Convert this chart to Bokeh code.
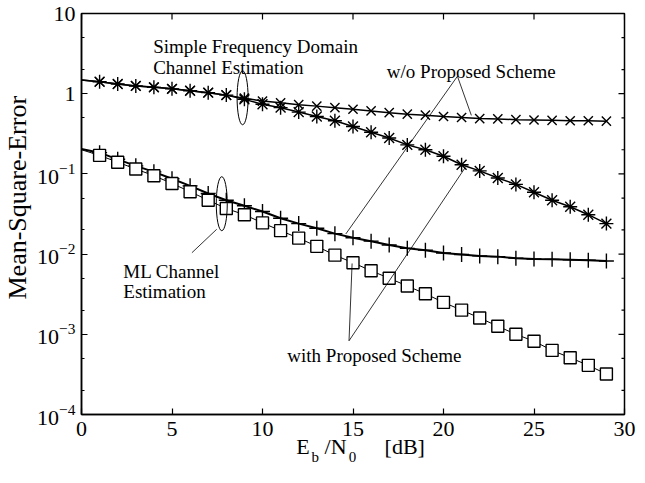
import math
from bokeh.plotting import figure
from bokeh.models import FixedTicker, Label, Range1d, LinearAxis
from bokeh.embed import file_html
from bokeh.resources import INLINE

# ---------------- data ----------------
ebn0 = list(range(0, 30))
mse_simple_wo = [1.48, 1.41, 1.32, 1.25, 1.21, 1.15, 1.09, 1.03, 0.96, 0.88,
                 0.81, 0.77, 0.73, 0.70, 0.67, 0.64, 0.61, 0.58, 0.555, 0.54,
                 0.52, 0.505, 0.49, 0.485, 0.475, 0.47, 0.465, 0.46, 0.46, 0.455]
mse_simple_with = [1.48, 1.41, 1.32, 1.25, 1.20, 1.15, 1.09, 1.03, 0.96, 0.85,
                   0.74, 0.67, 0.59, 0.52, 0.46, 0.39, 0.33, 0.28, 0.23, 0.20,
                   0.166, 0.13, 0.109, 0.089, 0.074, 0.059, 0.047, 0.039, 0.031, 0.024]
mse_ml_wo = [0.205, 0.184, 0.152, 0.126, 0.106, 0.087, 0.071, 0.057, 0.047, 0.040,
             0.034, 0.028, 0.024, 0.021, 0.018, 0.016, 0.0145, 0.013, 0.0118, 0.0112,
             0.0103, 0.0099, 0.0095, 0.0093, 0.0089, 0.0087, 0.0086, 0.0085, 0.0084, 0.0082]
mse_ml_with = [0.20, 0.17, 0.14, 0.115, 0.095, 0.076, 0.060, 0.047, 0.037, 0.031,
               0.0245, 0.0196, 0.0158, 0.0125, 0.0097, 0.0078, 0.0062, 0.0050, 0.0040, 0.0032,
               0.0025, 0.0020, 0.0016, 0.00126, 0.0010, 0.00082, 0.00063, 0.00051, 0.00041, 0.00032]

x_ticks = [0, 5, 10, 15, 20, 25, 30]
y_ticks = [1e-4, 1e-3, 1e-2, 1e-1, 1, 10]
y_minor = [2e-4, 5e-4, 2e-3, 5e-3, 2e-2, 5e-2, 0.2, 0.5, 2, 5]
y_label_overrides = {1: "1", 10: "10"}

# x-axis title pieces ("E_b /N_0  [dB]"): main parts and subscripts, centred at these x positions
xlabel_main_pos = [12.23, 14.04, 17.86]
xlabel_main_txt = ["E", "/N", "[dB]"]
xlabel_sub_pos = [12.91, 14.97]
xlabel_sub_txt = ["b", "0"]

FONT = "Liberation Serif"
X_MIN, X_MAX = 0, 30
Y_MIN, Y_MAX = 1e-4, 10

p = figure(width=636, height=467, x_range=Range1d(X_MIN, X_MAX), y_range=Range1d(Y_MIN, Y_MAX),
           y_axis_type="log", output_backend="svg", toolbar_location=None,
           min_border_left=78, min_border_right=12, min_border_top=13, min_border_bottom=0)
p.xgrid.visible = False
p.ygrid.visible = False
p.outline_line_color = "black"
p.outline_line_width = 1.5
p.background_fill_color = "white"
p.border_fill_color = "white"


def style(ax):
    ax.axis_line_width = 1.5
    ax.axis_line_color = "black"
    ax.major_tick_in = 6
    ax.major_tick_out = 0
    ax.minor_tick_in = 3
    ax.minor_tick_out = 0
    ax.major_tick_line_width = 1.2
    ax.minor_tick_line_width = 1.2
    ax.major_tick_line_color = "black"
    ax.minor_tick_line_color = "black"
    ax.major_label_text_font = FONT
    ax.major_label_text_color = "black"
    ax.major_label_text_font_size = "22px"
    ax.major_label_standoff = 6


def text_axis(positions, texts, size, standoff):
    # an extra axis below the main one that only carries text labels
    ax = LinearAxis(ticker=FixedTicker(ticks=positions),
                    major_label_overrides=dict(zip(positions, texts)))
    ax.axis_line_color = None
    ax.major_tick_line_color = None
    ax.minor_tick_line_color = None
    ax.major_tick_in = 0
    ax.major_tick_out = 0
    ax.minor_tick_in = 0
    ax.minor_tick_out = 0
    ax.major_label_text_font = FONT
    ax.major_label_text_color = "black"
    ax.major_label_text_font_size = size
    ax.major_label_standoff = standoff
    p.add_layout(ax, "below")
    return ax


bottom = p.below[0]
left = p.left[0]
bottom.ticker = FixedTicker(ticks=x_ticks)
left.ticker = FixedTicker(ticks=y_ticks, minor_ticks=y_minor)
left.major_label_overrides = y_label_overrides
style(bottom)
style(left)
bottom.major_label_standoff = 7
left.axis_label = "\u00a0" * 5 + "Mean-Square-Error"
left.axis_label_text_font = FONT
left.axis_label_text_font_size = "26px"
left.axis_label_text_font_style = "normal"
left.axis_label_text_color = "black"
left.axis_label_standoff = 2

text_axis(xlabel_main_pos, xlabel_main_txt, "22px", -5)
text_axis(xlabel_sub_pos, xlabel_sub_txt, "15px", -13)

# mirrored inward ticks on the top and right edges (half of each dash is clipped by the frame)
p.scatter(x_ticks, [Y_MAX] * len(x_ticks), marker="dash", angle=math.pi / 2, size=12,
          line_color="black", line_width=1.2)
p.scatter([X_MAX] * len(y_ticks), y_ticks, marker="dash", size=12,
          line_color="black", line_width=1.2)
p.scatter([X_MAX] * len(y_minor), y_minor, marker="dash", size=6,
          line_color="black", line_width=1.2)

# ---------------- curves ----------------
p.line(ebn0, mse_simple_wo, line_color="black", line_width=1.5)
p.line(ebn0, mse_simple_with, line_color="black", line_width=1.5)
p.line(ebn0, mse_ml_wo, line_color="black", line_width=2)
p.line(ebn0, mse_ml_with, line_color="black", line_width=1)

p.scatter(ebn0[1:], mse_simple_wo[1:], marker="x", size=13, line_color="black", line_width=1.4)
p.scatter(ebn0[1:], mse_simple_with[1:], marker="asterisk", size=14, line_color="black", line_width=1.4)
p.scatter(ebn0[1:], mse_ml_wo[1:], marker="cross", size=15, line_color="black", line_width=1.4)
p.scatter(ebn0[1:], mse_ml_with[1:], marker="square", size=12, fill_color="white",
          line_color="black", line_width=1.4)

# ---------------- annotations ----------------
p.ellipse(x=[8.9, 7.75], y=[0.89, 0.0425], width=11, height=54,
          width_units="screen", height_units="screen",
          fill_color=None, line_color="black", line_width=1)

p.segment(x0=[20.77, 20.77, 14.78, 14.78, 7.47],
          y0=[1.65, 1.65, 0.00083, 0.00083, 0.0204],
          x1=[21.54, 14.6, 14.95, 21.2, 6.1],
          y1=[0.536, 0.0178, 0.00764, 0.12, 0.0104],
          line_color="black", line_width=0.8)


def txt(x, y, s, size="19px"):
    p.add_layout(Label(x=x, y=y, text=s, text_font=FONT, text_font_size=size,
                       text_color="black", text_baseline="alphabetic", text_align="left"))


txt(3.96, 3.84, "Simple Frequency Domain")
txt(3.96, 2.13, "Channel Estimation")
txt(16.87, 1.9, "w/o Proposed Scheme")
txt(2.31, 0.0061, "ML Channel")
txt(2.31, 0.00337, "Estimation")
txt(11.37, 0.00054, "with Proposed Scheme")

open("out.html", "w").write(file_html(p, INLINE))
